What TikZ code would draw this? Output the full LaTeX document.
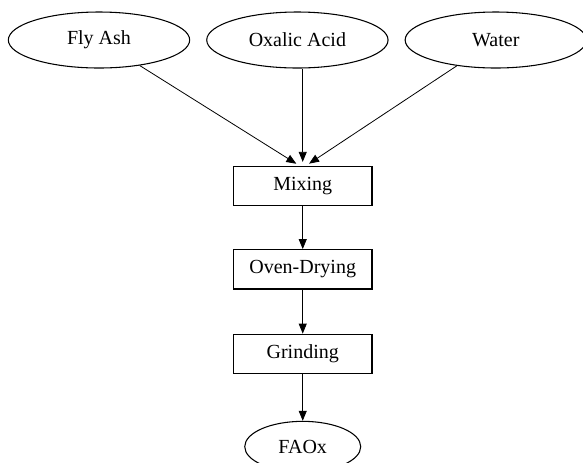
\documentclass[tikz,border=0pt]{standalone}
\usepackage{fontspec}
\setmainfont{Liberation Serif}
\usepackage{tikz}
\usetikzlibrary{arrows.meta, positioning, shapes.geometric}

\begin{document}
\begin{tikzpicture}[
  font=\fontsize{15}{18}\selectfont,
  input/.style={ellipse, draw=black, line width=0.8pt, fill=white,
    minimum width=136pt, minimum height=42pt, inner sep=0pt},
  stage/.style={rectangle, draw=black, line width=0.9pt, fill=white,
    minimum width=104pt, minimum height=29.5pt, inner sep=2pt},
  arr/.style={-{Triangle[length=7.5pt, width=6pt]}, black, line width=0.6pt}]
  \useasboundingbox (0,0) rectangle (437.25pt,-346.5pt);
  \node[input] (fly) at (74.25pt,-30pt) {Fly Ash};
  \node[input, right=12pt of fly] (oxa) {Oxalic Acid};
  \node[input, right=12pt of oxa] (wat) {Water};
  \node[stage, below=73pt of oxa, xshift=4pt] (mix) {Mixing};
  \node[stage, below=32pt of mix] (oven) {Oven-Drying};
  \node[stage, below=33pt of oven] (grind) {Grinding};
  \node[input, minimum width=87pt, minimum height=38pt, below=35pt of grind] (faox) {FAOx};
  \draw[arr, shorten >=3pt] (fly) -- ([xshift=-2.25pt]mix.north);
  \draw[arr, shorten >=3pt] (oxa.south -| mix.north) -- (mix.north);
  \draw[arr, shorten >=3pt] (wat) -- ([xshift=2.25pt]mix.north);
  \draw[arr] (mix) -- (oven);
  \draw[arr] (oven) -- (grind);
  \draw[arr] (grind) -- (faox);
\end{tikzpicture}
\end{document}
